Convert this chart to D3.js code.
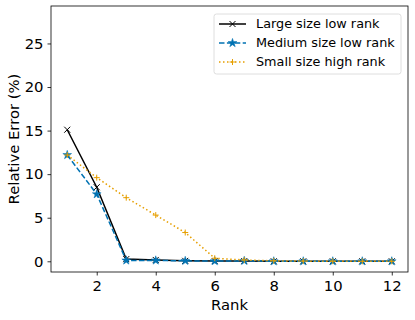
<!DOCTYPE html>
<html>
<head>
<meta charset="utf-8">
<script src="https://cdn.jsdelivr.net/npm/d3@7"></script>
<style>
  body { margin: 0; background: #fff; }
  text { font-family: "DejaVu Sans", sans-serif; }
</style>
</head>
<body>
<svg width="415" height="320"></svg>
<script>
var svg = d3.select("svg");

const ranks = [1, 2, 3, 4, 5, 6, 7, 8, 9, 10, 11, 12];
const largeLow = [15.1, 8.5, 0.25, 0.15, 0.05, 0.02, 0.02, 0.0, 0.0, 0.0, 0.0, 0.0];
const mediumLow = [12.2, 7.7, 0.1, 0.1, 0.05, 0.02, 0.05, 0.0, 0.0, 0.0, 0.0, 0.0];
const smallHigh = [12.2, 9.6, 7.3, 5.3, 3.3, 0.35, 0.15, 0.05, 0.02, 0.01, 0.0, 0.0];
const seriesNames = ["Large size low rank", "Medium size low rank", "Small size high rank"];
const xTicks = [2, 4, 6, 8, 10, 12];
const yTicks = [0, 5, 10, 15, 20, 25];

const plotLeft = 51, plotRight = 408, plotTop = 6, plotBottom = 272;

var x = d3.scaleLinear().domain([0.45, 12.55]).range([plotLeft, plotRight]);
var y = d3.scaleLinear().domain([-1.23, 29.3]).range([plotBottom, plotTop]);

var series = [
  { name: seriesNames[0], values: largeLow, color: "#000000", dash: null, marker: "x" },
  { name: seriesNames[1], values: mediumLow, color: "#0072B2", dash: "5.5,2.4", marker: "star" },
  { name: seriesNames[2], values: smallHigh, color: "#E69F00", dash: "1.5,2.5", marker: "plus" }
];

// axes
var xAxis = svg.append("g")
  .attr("transform", "translate(0," + plotBottom + ")")
  .call(d3.axisBottom(x).tickValues(xTicks).tickSize(3.5).tickPadding(5));
var yAxis = svg.append("g")
  .attr("transform", "translate(" + plotLeft + ",0)")
  .call(d3.axisLeft(y).tickValues(yTicks).tickSize(3.5).tickPadding(4));
[xAxis, yAxis].forEach(a => {
  a.select(".domain").remove();
  a.selectAll("text").attr("font-size", 14.8).attr("fill", "#000")
    .style("font-family", "'DejaVu Sans', sans-serif");
  a.selectAll("line").attr("stroke", "#000").attr("stroke-width", 0.8);
});

svg.append("rect")
  .attr("x", plotLeft).attr("y", plotTop)
  .attr("width", plotRight - plotLeft).attr("height", plotBottom - plotTop)
  .attr("fill", "none").attr("stroke", "#000").attr("stroke-width", 0.8);

svg.append("text")
  .attr("x", (plotLeft + plotRight) / 2).attr("y", 310)
  .attr("text-anchor", "middle").attr("font-size", 14.8)
  .text("Rank");
svg.append("text")
  .attr("transform", "translate(18.5,139) rotate(-90)")
  .attr("text-anchor", "middle").attr("font-size", 14.8)
  .text("Relative Error (%)");

function drawMarker(g, type, cx, cy, color, s) {
  if (type === "x") {
    g.append("path")
      .attr("d", "M" + (cx - s) + "," + (cy - s) + "L" + (cx + s) + "," + (cy + s) +
                 "M" + (cx - s) + "," + (cy + s) + "L" + (cx + s) + "," + (cy - s))
      .attr("stroke", color).attr("stroke-width", 1).attr("fill", "none");
  } else if (type === "plus") {
    g.append("path")
      .attr("d", "M" + (cx - s) + "," + cy + "L" + (cx + s) + "," + cy +
                 "M" + cx + "," + (cy - s) + "L" + cx + "," + (cy + s))
      .attr("stroke", color).attr("stroke-width", 1).attr("fill", "none");
  } else {
    g.append("path")
      .attr("d", d3.symbol().type(d3.symbolStar).size(24)())
      .attr("transform", "translate(" + cx + "," + cy + ")")
      .attr("fill", color).attr("stroke", color).attr("stroke-width", 0.5);
  }
}

var line = d3.line().x((d, i) => x(ranks[i])).y(d => y(d));

var plot = svg.append("g");
series.forEach(s => {
  plot.append("path")
    .datum(s.values)
    .attr("d", line)
    .attr("fill", "none")
    .attr("stroke", s.color)
    .attr("stroke-width", 1.5)
    .attr("stroke-dasharray", s.dash);
  var mg = plot.append("g");
  s.values.forEach((v, i) => drawMarker(mg, s.marker, x(ranks[i]), y(v), s.color, 3));
});

// legend
var lg = svg.append("g");
lg.append("rect")
  .attr("x", 214).attr("y", 14).attr("width", 187).attr("height", 60)
  .attr("rx", 2.5)
  .attr("fill", "#fff").attr("fill-opacity", 0.8)
  .attr("stroke", "#d6d6d6").attr("stroke-width", 0.8);
series.forEach((s, i) => {
  var ly = 24 + i * 19;
  lg.append("line")
    .attr("x1", 219).attr("x2", 246).attr("y1", ly).attr("y2", ly)
    .attr("stroke", s.color).attr("stroke-width", 1.5)
    .attr("stroke-dasharray", s.dash);
  drawMarker(lg, s.marker, 232.5, ly, s.color, 3);
  lg.append("text")
    .attr("x", 256).attr("y", ly).attr("dy", "0.35em")
    .attr("font-size", 12.8)
    .text(s.name);
});
</script>
</body>
</html>
